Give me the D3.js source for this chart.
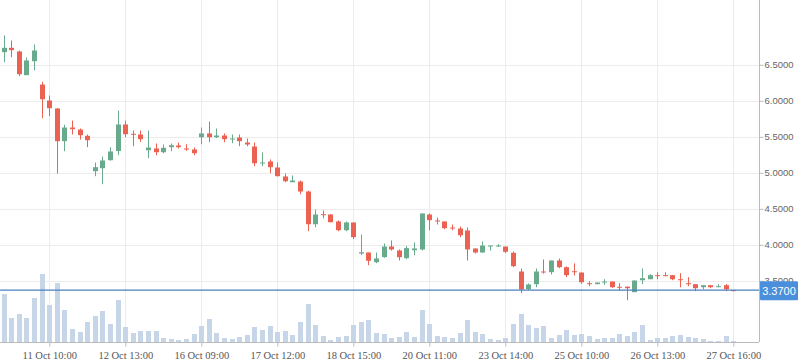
<!DOCTYPE html>
<html>
<head>
<meta charset="utf-8">
<script src="https://cdn.jsdelivr.net/npm/d3@7"></script>
<style>
  html, body { margin: 0; padding: 0; background: #fff; }
  svg { display: block; }
</style>
</head>
<body>
<div id="chart"></div>
<script>
// candle data (hourly bars)
var openP  = [6.675,6.736,6.685,6.356,6.550,6.226,6.004,5.893,5.439,5.629,
              5.601,5.514,5.022,5.064,5.175,5.303,5.671,5.542,5.532,5.314,
              5.338,5.286,5.356,5.379,5.338,5.324,5.494,5.546,5.494,5.518,
              5.467,5.490,5.421,5.365,5.129,5.157,5.074,4.949,4.869,4.879,
              4.740,4.286,4.425,4.421,4.324,4.203,4.310,3.879,3.893,3.758,
              3.828,3.976,3.921,3.815,3.925,3.935,4.421,4.338,4.324,4.240,
              4.226,4.199,3.949,3.893,3.976,3.976,3.976,3.889,3.629,3.383,
              3.453,3.629,3.620,3.782,3.689,3.633,3.615,3.467,3.453,3.476,
              3.490,3.417,3.419,3.342,3.508,3.522,3.578,3.578,3.578,3.522,
              3.467,3.453,3.411,3.439,3.411,3.439,3.370];
var highP  = [6.907,6.837,6.699,6.601,6.782,6.264,6.074,5.900,5.667,5.726,
              5.615,5.532,5.143,5.226,5.356,5.865,5.726,5.588,5.588,5.588,
              5.407,5.393,5.407,5.420,5.397,5.351,5.629,5.712,5.615,5.546,
              5.532,5.532,5.476,5.421,5.282,5.185,5.143,4.990,4.963,4.893,
              4.754,4.490,4.476,4.425,4.338,4.324,4.310,4.143,3.893,3.893,
              4.018,4.060,3.935,3.982,4.032,4.435,4.435,4.379,4.324,4.282,
              4.254,4.240,3.949,4.046,3.990,4.010,3.976,3.907,3.671,3.463,
              3.671,3.796,3.782,3.810,3.699,3.742,3.615,3.494,3.476,3.522,
              3.490,3.467,3.420,3.504,3.671,3.592,3.620,3.620,3.578,3.606,
              3.550,3.453,3.439,3.439,3.453,3.453,3.370];
var lowP   = [6.536,6.605,6.342,6.356,6.425,5.758,5.786,4.990,5.300,5.532,
              5.462,5.356,4.953,4.842,5.170,5.244,5.494,5.370,5.428,5.203,
              5.244,5.272,5.300,5.338,5.306,5.244,5.397,5.425,5.481,5.425,
              5.411,5.370,5.370,5.092,5.092,4.994,4.949,4.869,4.869,4.703,
              4.189,4.244,4.369,4.310,4.189,4.189,4.078,3.856,3.717,3.744,
              3.820,3.920,3.782,3.800,3.856,3.920,4.200,4.282,4.217,4.203,
              4.106,3.782,3.880,3.893,3.920,3.970,3.884,3.689,3.328,3.370,
              3.411,3.600,3.588,3.675,3.550,3.574,3.458,3.425,3.453,3.444,
              3.403,3.365,3.230,3.342,3.453,3.522,3.522,3.564,3.508,3.411,
              3.425,3.356,3.383,3.397,3.411,3.356,3.356];
var closeP = [6.736,6.703,6.369,6.560,6.699,6.022,5.897,5.439,5.629,5.606,
              5.522,5.453,5.078,5.171,5.296,5.671,5.536,5.528,5.467,5.351,
              5.286,5.347,5.383,5.356,5.324,5.272,5.546,5.494,5.518,5.467,
              5.476,5.439,5.393,5.133,5.143,5.078,4.953,4.883,4.893,4.740,
              4.286,4.421,4.411,4.314,4.203,4.310,4.106,3.897,3.778,3.810,
              3.976,3.935,3.828,3.954,3.949,4.435,4.342,4.324,4.231,4.226,
              4.133,3.935,3.893,3.990,3.990,3.990,3.903,3.703,3.379,3.449,
              3.629,3.615,3.782,3.689,3.578,3.619,3.480,3.453,3.476,3.490,
              3.411,3.403,3.397,3.504,3.536,3.578,3.564,3.564,3.522,3.508,
              3.453,3.397,3.439,3.411,3.425,3.383,3.356];
var volume = [480,240,280,240,440,680,370,590,320,130,
              100,200,260,310,180,420,150,90,110,110,
              110,40,30,20,30,80,160,230,90,40,
              30,50,70,150,120,160,100,110,70,200,
              380,170,60,20,50,60,170,200,220,90,
              80,40,50,100,50,320,180,60,50,40,
              90,220,100,80,30,20,40,180,280,170,
              140,160,40,70,120,70,80,60,30,40,
              40,80,60,100,170,20,40,40,60,70,
              50,40,30,10,10,60,10];

var tickIdx = [6, 16, 26, 36, 46, 56, 66, 76, 86, 96];
var tickLabels = ["11 Oct 10:00","12 Oct 13:00","16 Oct 09:00","17 Oct 12:00","18 Oct 15:00",
                  "20 Oct 11:00","23 Oct 14:00","25 Oct 10:00","26 Oct 13:00","27 Oct 16:00"];
var priceTicks = [3.5, 4.0, 4.5, 5.0, 5.5, 6.0, 6.5];
var lastPrice = 3.37;

var width = 798, height = 363;
var plotRight = 759, plotBottom = 342;
var up = "#6aaa8c", down = "#ec6252";

var svg = d3.select("#chart").append("svg")
    .attr("width", width)
    .attr("height", height);

var x = d3.scalePoint()
    .domain(d3.range(openP.length))
    .range([3.7, 733.3]);

var y = d3.scaleLinear()
    .domain([2.65, 7.4])
    .range([plotBottom, 0]);

var yVol = d3.scaleLinear()
    .domain([0, 720])
    .range([plotBottom, plotBottom - 72]);

// grid
svg.append("g").selectAll("line")
    .data(priceTicks).enter().append("line")
    .attr("x1", 0).attr("x2", plotRight)
    .attr("y1", d => Math.round(y(d)) + 0.5)
    .attr("y2", d => Math.round(y(d)) + 0.5)
    .attr("stroke", "#ececec");

svg.append("g").selectAll("line")
    .data(tickIdx).enter().append("line")
    .attr("x1", d => Math.round(x(d)) + 0.5)
    .attr("x2", d => Math.round(x(d)) + 0.5)
    .attr("y1", 0).attr("y2", plotBottom)
    .attr("stroke", "#ececec");

// volume
svg.append("g").selectAll("rect")
    .data(volume).enter().append("rect")
    .attr("x", (d, i) => Math.round(x(i)) - 2)
    .attr("width", 5)
    .attr("y", d => yVol(d))
    .attr("height", d => plotBottom - yVol(d))
    .attr("fill", "#c3d4e7")
    .attr("opacity", 0.95);

// candles
var candles = svg.append("g").selectAll("g")
    .data(d3.range(openP.length)).enter().append("g");

candles.append("line")
    .attr("x1", i => Math.round(x(i)) + 0.5)
    .attr("x2", i => Math.round(x(i)) + 0.5)
    .attr("y1", i => y(highP[i]))
    .attr("y2", i => y(lowP[i]))
    .attr("stroke", i => closeP[i] >= openP[i] ? up : down)
    .attr("stroke-width", 1);

candles.append("rect")
    .attr("x", i => Math.round(x(i)) - 2)
    .attr("width", 5)
    .attr("y", i => y(Math.max(openP[i], closeP[i])))
    .attr("height", i => Math.max(1, Math.abs(y(openP[i]) - y(closeP[i]))))
    .attr("fill", i => closeP[i] >= openP[i] ? up : down);

// current price line
svg.append("line")
    .attr("x1", 0).attr("x2", plotRight)
    .attr("y1", y(lastPrice)).attr("y2", y(lastPrice))
    .attr("stroke", "#4a7fc1")
    .attr("stroke-width", 1.2);

// axes
var xAxis = svg.append("g")
    .attr("transform", "translate(0," + (plotBottom + 0.5) + ")")
    .call(d3.axisBottom(x)
        .tickValues(tickIdx)
        .tickFormat((d, i) => tickLabels[i])
        .tickSize(4)
        .tickSizeOuter(0));
xAxis.select(".domain").attr("d", "M0,0H" + plotRight).attr("stroke", "#bbb");
xAxis.selectAll(".tick line").attr("stroke", "#bbb");
xAxis.selectAll(".tick text")
    .attr("dy", "0.95em")
    .style("font-family", "'Liberation Serif', 'DejaVu Serif', serif")
    .style("font-size", "10.5px")
    .attr("fill", "#555");

var yAxis = svg.append("g")
    .attr("transform", "translate(" + (plotRight + 0.5) + ",0)")
    .call(d3.axisRight(y)
        .tickValues(priceTicks)
        .tickFormat(d3.format(".4f"))
        .tickSize(4)
        .tickPadding(1)
        .tickSizeOuter(0));
yAxis.select(".domain").attr("d", "M0,0V" + plotBottom).attr("stroke", "#bbb");
yAxis.selectAll(".tick line").attr("stroke", "#bbb");
yAxis.selectAll(".tick text")
    .style("font-family", "'Liberation Sans', Arial, sans-serif")
    .style("font-size", "9.5px")
    .attr("fill", "#666");

// price label box
var lbl = svg.append("g")
    .attr("transform", "translate(" + (plotRight + 1) + "," + y(lastPrice) + ")");
lbl.append("rect")
    .attr("x", 0).attr("y", -9)
    .attr("width", width - plotRight - 1).attr("height", 19)
    .attr("rx", 1)
    .attr("fill", "#4a8fdb");
lbl.append("text")
    .attr("x", 19).attr("y", 0.5)
    .attr("dy", "0.35em")
    .attr("text-anchor", "middle")
    .style("font-family", "'Liberation Sans', Arial, sans-serif")
    .style("font-size", "11px")
    .attr("fill", "#fff")
    .text(d3.format(".4f")(lastPrice));
</script>
</body>
</html>
